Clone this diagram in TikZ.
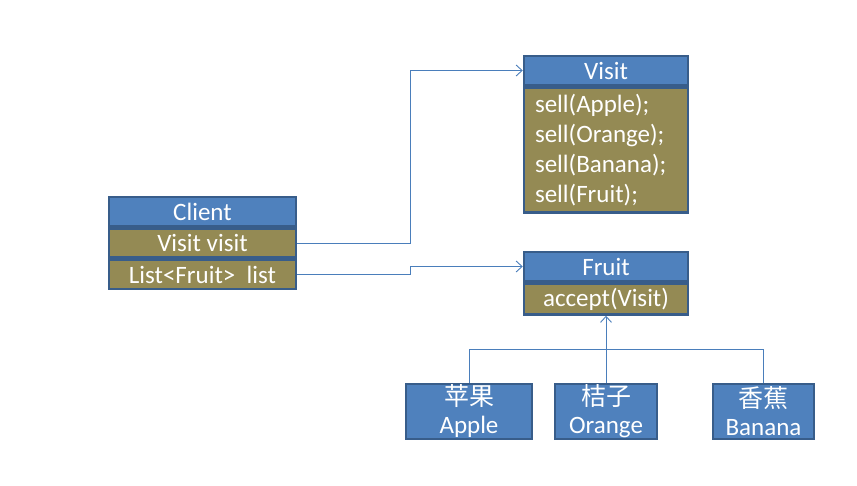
\documentclass[tikz,border=0pt]{standalone}
\usepackage{fontspec}
\setmainfont{Carlito}
\newfontfamily\cjk{Noto Sans CJK SC}
\usetikzlibrary{positioning,arrows.meta}
\definecolor{hdblue}{HTML}{4F81BD}
\definecolor{bdblue}{HTML}{385D8A}
\definecolor{olive}{HTML}{948A54}
\definecolor{lnblue}{HTML}{4A7EBB}
\tikzset{
  head/.style={draw=bdblue, line width=2.5pt, fill=hdblue, text=white,
    inner sep=0pt, minimum height=29pt, font=\fontsize{25}{30}\selectfont},
  field/.style={head, fill=olive},
  leaf/.style={head, align=center, minimum height=55pt},
  plain/.style={draw=lnblue, line width=0.9pt},
  link/.style={plain, -{Straight Barb[length=6pt,width=11pt,line width=0.9pt]}},
}
\begin{document}
\begin{tikzpicture}[x=1pt,y=-1pt]
  \useasboundingbox (0,0) rectangle (857,485);
  % client class
  \node[head, minimum width=187pt] (client) at (202.5,211.5) {Client};
  \node[field, minimum width=187pt, below=0pt of client] (cvisit) {Visit visit};
  \node[field, minimum width=187pt, below=0pt of cvisit] (clist) {List<Fruit>\ \ list};
  % visitor
  \node[head, minimum width=164pt] (visit) at (606,70.5) {Visit};
  \node[field, minimum width=164pt, minimum height=125pt, text width=142pt,
    inner xsep=11pt, align=left, below=0pt of visit,
    font=\fontsize{25}{30}\selectfont] (vbody)
    {sell(Apple);\\sell(Orange);\\sell(Banana);\\sell(Fruit);};
  % element
  \node[head, minimum width=164pt] (fruit) at (606,266.5) {Fruit};
  \node[field, minimum width=164pt, minimum height=31pt, below=0pt of fruit] (fbody) {accept(Visit)};
  % concrete fruits
  \node[leaf, minimum width=126pt] (apple) at (469,411.5) {{\cjk 苹果}\\[-2pt]Apple};
  \node[leaf, minimum width=102pt] (orange) at (606,411.5) {{\cjk 桔子}\\[-2pt]Orange};
  \node[leaf, minimum width=101pt] (banana) at (763.5,411.5) {{\cjk 香蕉}\\[-2pt]Banana};
  % connectors
  \coordinate (bend) at (410,0);
  \coordinate (bar) at (0,349);
  \draw[link] (cvisit.east) -- (cvisit.east -| bend) |- (visit.west);
  \draw[link] (clist.east) -- (clist.east -| bend) |- (fruit.west);
  \draw[link] (orange.north) -- (fbody.south);
  \draw[plain] (apple.north) -- (apple.north |- bar) -- (banana.north |- bar) -- (banana.north);
\end{tikzpicture}
\end{document}
